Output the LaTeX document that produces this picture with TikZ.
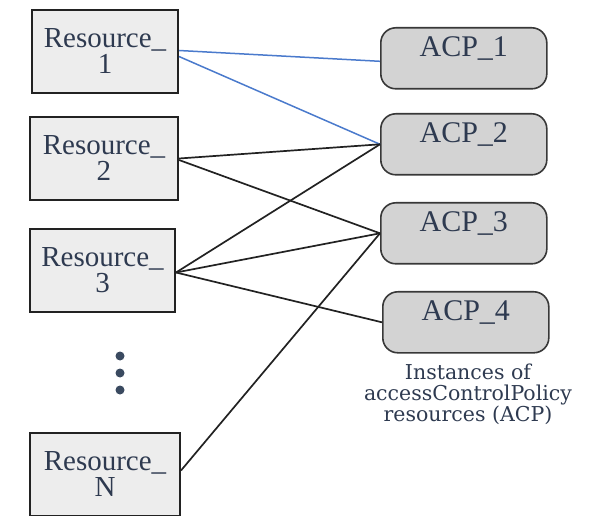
\documentclass[tikz,border=0pt]{standalone}
\usepackage{fontspec}
\setmainfont{Liberation Serif}
\newfontfamily\labelfont{DejaVu Serif}
\definecolor{txt}{HTML}{2E3A50}
\definecolor{resfill}{HTML}{EDEDED}
\definecolor{acpfill}{HTML}{D3D3D3}
\definecolor{edgeblue}{HTML}{4A7ACC}
\definecolor{edgeblack}{HTML}{222222}
\definecolor{dotcol}{HTML}{3A4A60}
\begin{document}
\begin{tikzpicture}[x=1pt,y=1pt,
  res/.style={draw=edgeblack, line width=2pt, fill=resfill, anchor=north west,
    minimum height=83pt, inner sep=0pt, align=center, text=txt,
    font=\fontsize{29}{26}\selectfont},
  acp/.style={draw=edgeblack!90, line width=1.6pt, fill=acpfill, rounded corners=15pt,
    anchor=north west, minimum width=166pt, inner xsep=0pt, inner ysep=0pt,
    text height=29pt, text depth=32pt, text=txt, font=\fontsize{30}{30}\selectfont},
  blk/.style={draw=edgeblack, line width=1.7pt},
  blu/.style={draw=edgeblue, line width=1.5pt},
  dotn/.style={circle, fill=dotcol, inner sep=0pt, minimum size=9pt}
]
\useasboundingbox (0,0) rectangle (598,-516);
% resource boxes
\node[res, minimum width=146pt] (r1) at (31,-9) {Resource\_\\1};
\node[res, minimum width=148pt] (r2) at (29,-116) {Resource\_\\2};
\node[res, minimum width=145pt] (r3) at (29,-228) {Resource\_\\3};
\node[res, minimum width=150pt] (rn) at (29,-432) {Resource\_\\N};
% ACP nodes
\node[acp] (a1) at (380,-27) {ACP\_1};
\node[acp] (a2) at (380,-113) {ACP\_2};
\node[acp] (a3) at (380,-202) {ACP\_3};
\node[acp] (a4) at (382,-291) {ACP\_4};
% dots
\node[dotn] (d1) at (120,-356) {};
\node[dotn] (d2) at (120,-373) {};
\node[dotn] (d3) at (120,-390) {};
% label
\node[anchor=north, align=center, text=txt, inner sep=0pt,
  font=\labelfont\fontsize{20.5}{21}\selectfont] (lbl) at (468,-364)
  {Instances of\\accessControlPolicy\\resources (ACP)};
% connectors
\draw[blu] ([yshift=1pt]r1.east) -- ([yshift=-3pt]a1.west);
\draw[blu] ([yshift=-5pt]r1.east) -- (a2.west);
\draw[blk] (r2.east) -- (a2.west);
\draw[blk] ([yshift=-1.5pt]r2.east) -- (a3.west);
\draw[blk] ([yshift=-2pt]r3.east) -- (a2.west);
\draw[blk] ([yshift=-2pt]r3.east) -- (a3.west);
\draw[blk] ([yshift=-2pt]r3.east) -- (a4.west);
\draw[blk] ([yshift=4pt]rn.east) -- (a3.west);
\end{tikzpicture}
\end{document}
